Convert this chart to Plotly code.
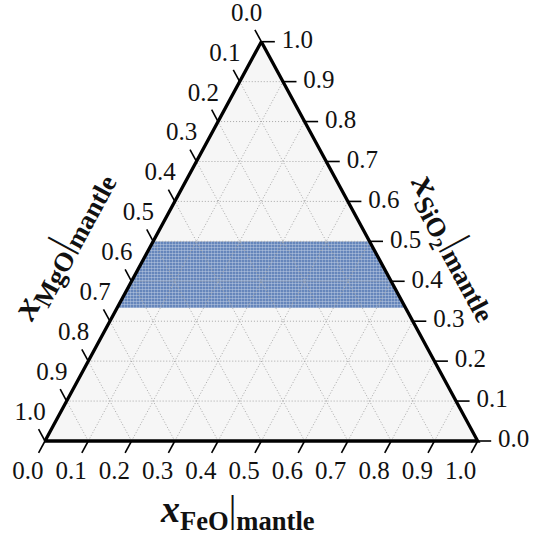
import plotly.graph_objects as go

# ---------------- data ----------------
tick_values = [0.0, 0.1, 0.2, 0.3, 0.4, 0.5, 0.6, 0.7, 0.8, 0.9, 1.0]
tick_labels = ["0.0", "0.1", "0.2", "0.3", "0.4", "0.5", "0.6", "0.7", "0.8", "0.9", "1.0"]
grid_values = [0.1, 0.2, 0.3, 0.4, 0.5, 0.6, 0.7, 0.8, 0.9]

# region covered by the sampled mantle compositions (SiO2 between 1/3 and 1/2)
band_sio2 = [0.333, 0.333, 0.5, 0.5]
band_mgo = [0.667, 0.0, 0.0, 0.5]
band_feo = [0.0, 0.667, 0.5, 0.0]

# ---------------- geometry ----------------
PX = 432.7   # pixels per ternary unit, horizontal
PY = 399.3   # pixels per ternary unit, vertical
X0_PX = 45.0
Y0_PX = 441.0
W, H = 544, 541

FONT = "Liberation Serif"


def txy(s, m, f):
    t = s + m + f
    return (f + s / 2.0) / t, s / t


def off(pt, dx_px, dy_px):
    return pt[0] + dx_px / PX, pt[1] + dy_px / PY


LEFT_DIR = (-0.4765, 0.8792)
BOT_DIR = (-0.4765, -0.8792)

fig = go.Figure()

# triangle background
tri = [txy(0, 1, 0), txy(0, 0, 1), txy(1, 0, 0), txy(0, 1, 0)]
fig.add_trace(go.Scatter(x=[p[0] for p in tri], y=[p[1] for p in tri], mode="lines",
                         fill="toself", fillcolor="#f6f6f6", line=dict(width=0),
                         hoverinfo="skip", showlegend=False))

# band of sampled compositions
bp = [txy(s, m, f) for s, m, f in zip(band_sio2, band_mgo, band_feo)]
bp.append(bp[0])
fig.add_trace(go.Scatter(x=[p[0] for p in bp], y=[p[1] for p in bp], mode="lines",
                         fill="toself", fillcolor="#4c72b0", line=dict(width=0),
                         fillpattern=dict(shape=".", bgcolor="#4c72b0", fgcolor="#ffffff",
                                          size=3, solidity=0.55),
                         hoverinfo="skip", showlegend=False))

# grid lines
gx, gy = [], []
for v in grid_values:
    for a, b in [
        (txy(v, 1 - v, 0), txy(v, 0, 1 - v)),          # constant SiO2
        (txy(0, v, 1 - v), txy(1 - v, v, 0)),          # constant MgO
        (txy(0, 1 - v, v), txy(1 - v, 0, v)),          # constant FeO
    ]:
        gx += [a[0], b[0], None]
        gy += [a[1], b[1], None]
fig.add_trace(go.Scatter(x=gx, y=gy, mode="lines",
                         line=dict(color="#a8a8a8", width=1, dash="1px,2px"),
                         hoverinfo="skip", showlegend=False))

# triangle edges
fig.add_trace(go.Scatter(x=[p[0] for p in tri], y=[p[1] for p in tri], mode="lines",
                         line=dict(color="black", width=3.3), hoverinfo="skip", showlegend=False))

# ticks
TL = 13.5
tx, ty = [], []
lab_x, lab_y, lab_t = [], [], []
for v, lab in zip(tick_values, tick_labels):
    # left axis: MgO
    e = txy(1 - v, v, 0)
    t = off(e, LEFT_DIR[0] * TL, LEFT_DIR[1] * TL)
    tx += [e[0], t[0], None]; ty += [e[1], t[1], None]
    l = off(e, LEFT_DIR[0] * 31, LEFT_DIR[1] * 31)
    lab_x.append(l[0]); lab_y.append(l[1]); lab_t.append(lab)
    # bottom axis: FeO
    e = txy(0, 1 - v, v)
    t = off(e, BOT_DIR[0] * TL, BOT_DIR[1] * TL)
    tx += [e[0], t[0], None]; ty += [e[1], t[1], None]
    l = off(e, BOT_DIR[0] * 36, BOT_DIR[1] * 36)
    lab_x.append(l[0]); lab_y.append(l[1]); lab_t.append(lab)
    # right axis: SiO2
    e = txy(v, 0, 1 - v)
    t = off(e, TL, 0)
    tx += [e[0], t[0], None]; ty += [e[1], t[1], None]
    l = off(e, 36, 0)
    lab_x.append(l[0]); lab_y.append(l[1]); lab_t.append(lab)

fig.add_trace(go.Scatter(x=tx, y=ty, mode="lines", line=dict(color="black", width=1.6),
                         hoverinfo="skip", showlegend=False))
fig.add_trace(go.Scatter(x=lab_x, y=lab_y, mode="text", text=lab_t, textposition="middle center",
                         textfont=dict(family=FONT, size=25, color="#111111"),
                         hoverinfo="skip", showlegend=False))

# axis titles
def title(name):
    return ("<b><i>x</i></b><sub><b>%s</b></sub>|<sub><b>mantle</b></sub>" % name)

tfont = dict(family=FONT, size=38, color="#111111")
anns = [
    dict(x=(62 - X0_PX) / PX, y=(Y0_PX - 246) / PY, text=title("MgO"), textangle=-61.6),
    dict(x=(455 - X0_PX) / PX, y=(Y0_PX - 247) / PY, text=title("SiO<sub>2</sub>"), textangle=61.6),
    dict(x=(237 - X0_PX) / PX, y=(Y0_PX - 512) / PY, text=title("FeO"), textangle=0),
]
for a in anns:
    a.update(xref="x", yref="y", showarrow=False, font=tfont, xanchor="center", yanchor="middle")

fig.update_layout(
    width=W, height=H, margin=dict(l=0, r=0, t=0, b=0),
    paper_bgcolor="white", plot_bgcolor="white",
    xaxis=dict(visible=False, range=[-X0_PX / PX, (W - X0_PX) / PX], fixedrange=True),
    yaxis=dict(visible=False, range=[(Y0_PX - H) / PY, Y0_PX / PY], fixedrange=True),
    annotations=anns,
)

fig.write_html("out.html", config={"displayModeBar": False},
               post_script="document.body.style.margin='0';document.body.style.overflow='hidden';")
